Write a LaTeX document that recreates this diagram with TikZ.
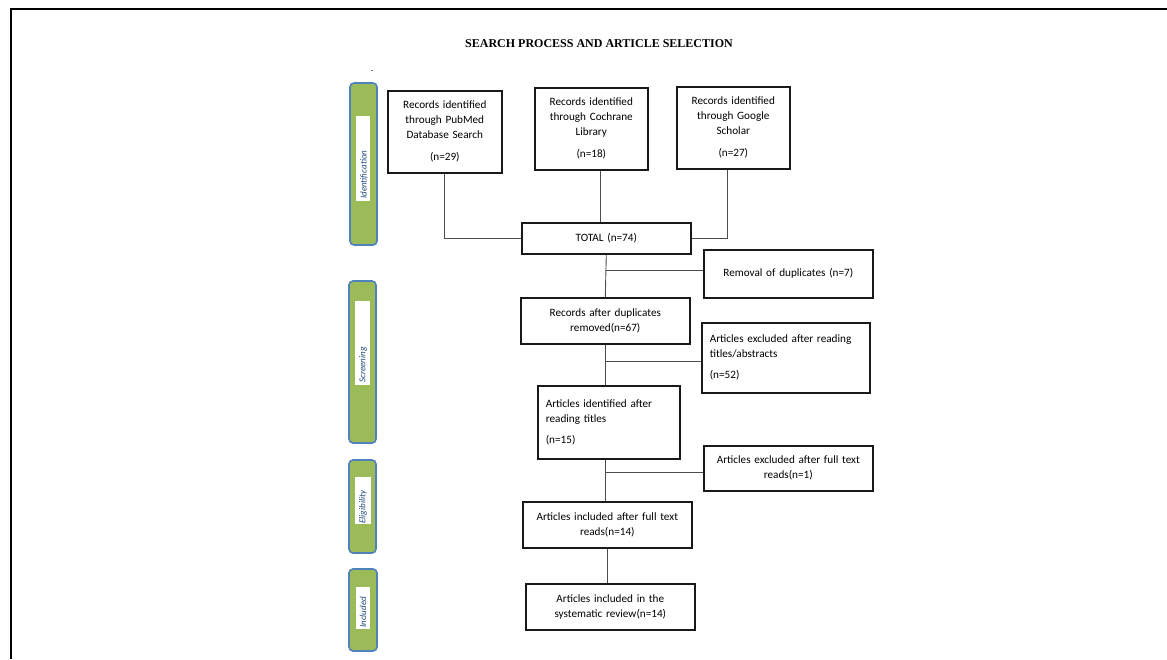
\documentclass[tikz,border=0pt]{standalone}
\usepackage{fontspec}
\setmainfont{Carlito}
\newfontfamily\titlefont{Liberation Serif}
\usetikzlibrary{calc}
\definecolor{bargreen}{HTML}{9BBB59}
\definecolor{barblue}{HTML}{4F81BD}
\definecolor{labblue}{HTML}{1F497D}
\tikzset{
  box/.style={draw=black!90, line width=1.6pt, inner sep=0pt, anchor=north west, font=\fontsize{11.2}{15}\selectfont, align=center},
  lbox/.style={box, align=left, inner xsep=8pt},
  conn/.style={draw=black!70, line width=0.9pt},
  bar/.style={draw=barblue, fill=bargreen, line width=1.6pt, rounded corners=4pt},
  bartext/.style={rotate=90, anchor=west, font=\fontsize{9}{10}\selectfont\itshape, text=labblue, inner sep=0pt},
}
\begin{document}
\begin{tikzpicture}[x=1pt,y=-1pt]
\useasboundingbox (0,0) rectangle (1167,659);
% frame
\draw[line width=2pt] (11,659) -- (11,9) -- (1167,9);
% title
\node[font=\titlefont\bfseries\fontsize{12}{13}\selectfont] (title) at (599,44) {SEARCH PROCESS AND ARTICLE SELECTION};
\node[font=\fontsize{8}{8}\selectfont] (dash) at (372,72) {-};

% side bars
\draw[bar] (350,83) rectangle (377,245);
\fill[white] (356,116) rectangle (370,201);
\node[bartext] (lid) at (364,199) {Identification};
\draw[bar] (349,281) rectangle (376,443);
\fill[white] (355,301) rectangle (370,385);
\node[bartext] (lsc) at (363,383) {Screening};
\draw[bar] (349,460) rectangle (376,553);
\fill[white] (355,477) rectangle (371,524);
\node[bartext] (lel) at (363,524) {Eligibility};
\draw[bar] (349,569) rectangle (377,651);
\fill[white] (356,587) rectangle (370,629);
\node[bartext] (lin) at (363,628) {Included};

% boxes
\node[box, minimum width=114pt, minimum height=82pt, text width=114pt] (pub) at (387,90)
  {Records identified\\through PubMed\\Database Search\\[7pt](n=29)};
\node[box, minimum width=113pt, minimum height=82pt, text width=113pt] (coch) at (534,87)
  {Records identified\\through Cochrane\\Library\\[7pt](n=18)\\[6pt]};
\node[box, minimum width=113pt, minimum height=82pt, text width=113pt] (goo) at (676,86)
  {Records identified\\through Google\\Scholar\\[7pt](n=27)\\[6pt]};
\node[box, minimum width=169pt, minimum height=31pt, text width=169pt] (total) at (521,222)
  {TOTAL (n=74)\\[2pt]};
\node[box, minimum width=169pt, minimum height=48pt, text width=169pt] (rem) at (703,249)
  {Removal of duplicates (n=7)\\[2pt]};
\node[box, minimum width=169pt, minimum height=46pt, text width=169pt] (rec) at (520,297)
  {Records after duplicates\\removed(n=67)};
\node[lbox, minimum width=168pt, minimum height=70pt, text width=152pt] (extit) at (701,322)
  {Articles excluded after reading\\titles/abstracts\\[6pt](n=52)\\[2pt]};
\node[lbox, minimum width=142pt, minimum height=73pt, text width=126pt] (ident) at (537,385)
  {Articles identified after\\reading titles\\[6pt](n=15)\\[4pt]};
\node[box, minimum width=169pt, minimum height=45pt, text width=169pt] (exfull) at (703,445)
  {Articles excluded after full text\\reads(n=1)\\[4pt]};
\node[box, minimum width=169pt, minimum height=46pt, text width=169pt] (incl) at (522,501)
  {Articles included after full text\\reads(n=14)};
\node[box, minimum width=169pt, minimum height=46pt, text width=169pt] (final) at (525,583)
  {Articles included in the\\systematic review(n=14)};

% connectors
\draw[conn] (pub.south) |- (total.west);
\draw[conn] ([xshift=9pt]coch.south) -- ([xshift=9pt]coch.south |- total.north);
\draw[conn] ([xshift=-6pt]goo.south) |- (total.east);
\draw[conn] (total.south) -- (rec.north);
\draw[conn] (total.south |- 0,270) -- (rem.west |- 0,270);
\draw[conn] (rec.south) -- (rec.south |- ident.north);
\draw[conn] (rec.south |- 0,361) -- (extit.west |- 0,361);
\draw[conn] ([xshift=-3pt]ident.south) -- ([xshift=-3pt]ident.south |- incl.north);
\draw[conn] ([xshift=-3pt]ident.south |- 0,472) -- (exfull.west |- 0,472);
\draw[conn] (incl.south) -- (incl.south |- final.north);
\end{tikzpicture}
\end{document}
